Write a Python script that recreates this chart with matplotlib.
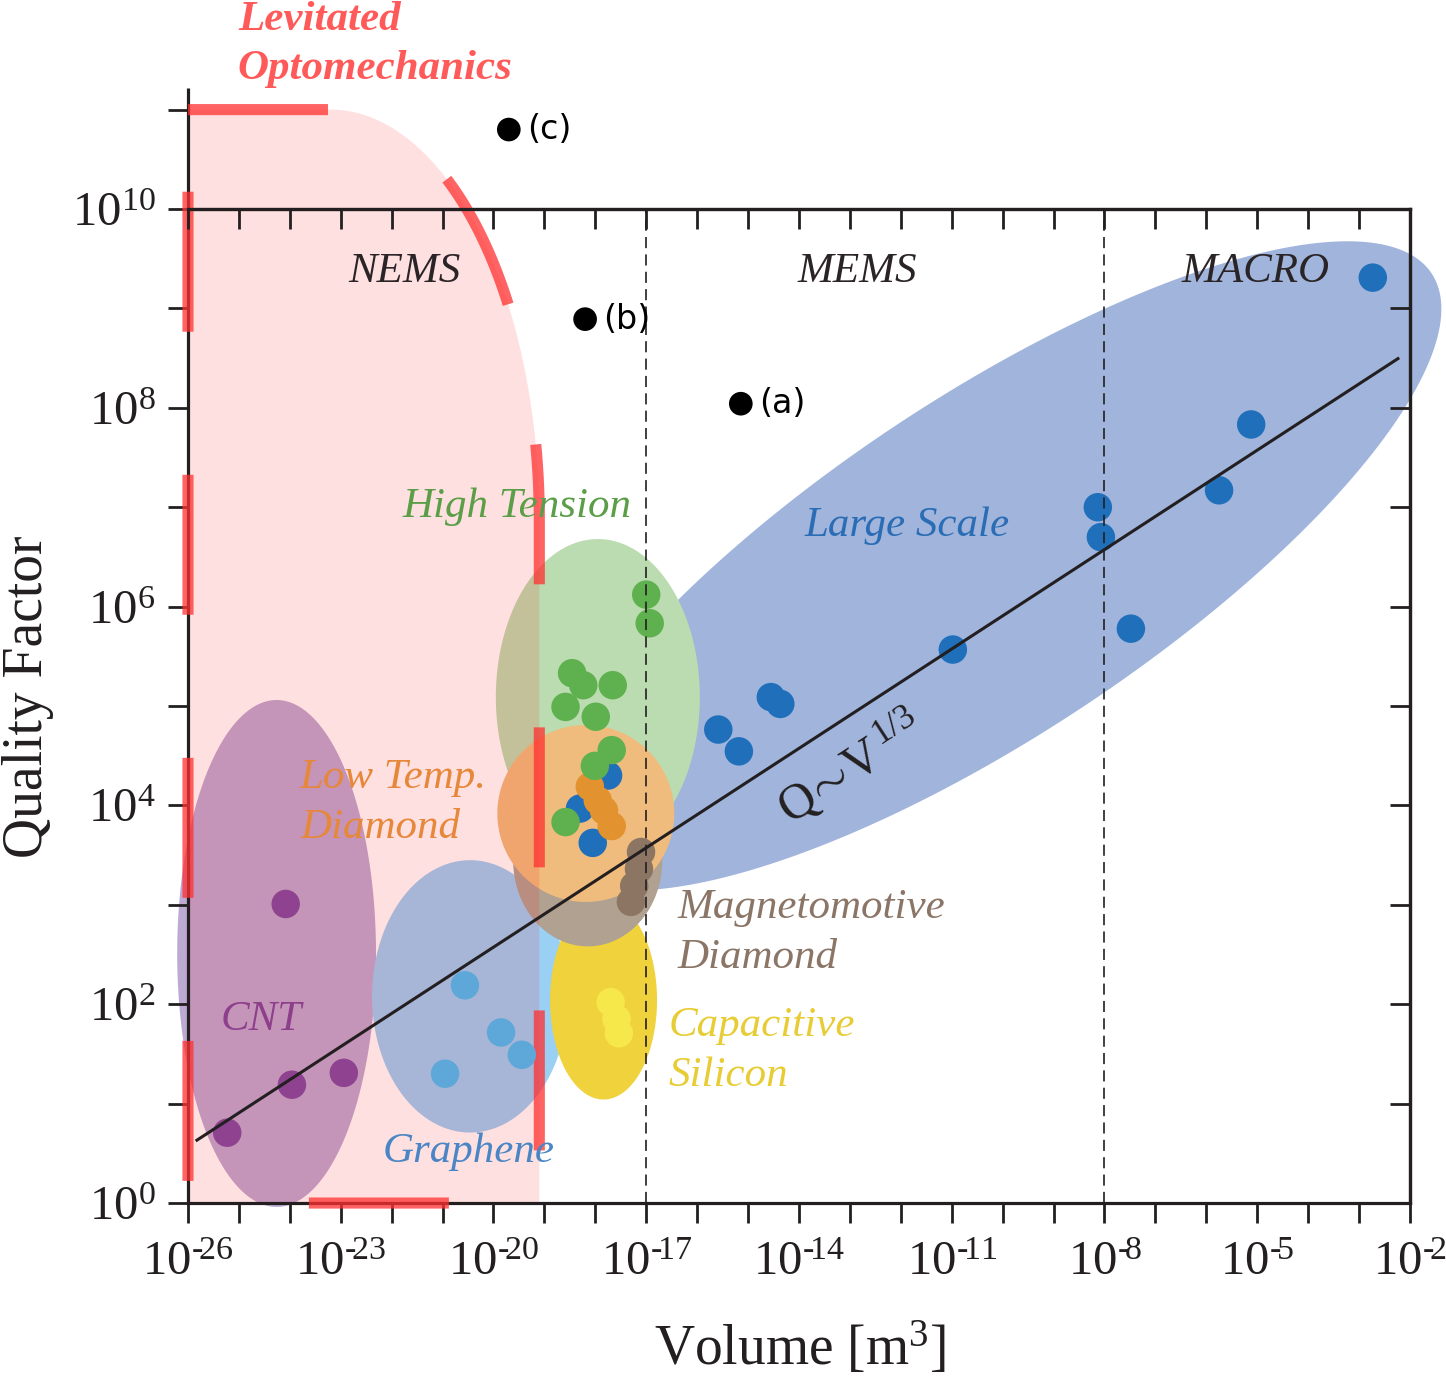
import numpy as np
import matplotlib
matplotlib.use("Agg")
import matplotlib.pyplot as plt
from matplotlib.patches import Polygon
from matplotlib.ticker import FixedLocator, FuncFormatter, NullLocator

plt.rcParams['font.family'] = ['Liberation Serif', 'DejaVu Serif']
plt.rcParams['mathtext.fontset'] = 'custom'
plt.rcParams['mathtext.rm'] = 'Liberation Serif'
plt.rcParams['mathtext.it'] = 'Liberation Serif:italic'
plt.rcParams['mathtext.bf'] = 'Liberation Serif:bold'
plt.rcParams['lines.scale_dashes'] = False

# ------------------------------------------------------------------ data
LARGE_V = [1.86e-3, 7.6e-6, 1.78e-6, 7.4e-9, 8.5e-9, 3.3e-8, 1.05e-11,
           2.8e-15, 4.3e-15, 2.6e-16, 6.6e-16, 1.78e-18, 5.0e-19, 8.9e-19]
LARGE_Q = [2.04e9, 6.8e7, 1.48e7, 1.0e7, 5.0e6, 6.0e5, 3.7e5,
           1.23e5, 1.05e5, 5.8e4, 3.5e4, 2.0e4, 9.3e3, 4.2e3]

TENSION_V = [1.0e-17, 1.17e-17, 3.5e-19, 5.8e-19, 2.2e-18, 2.6e-19, 1.02e-18,
             2.1e-18, 9.8e-19, 2.6e-19]
TENSION_Q = [1.32e6, 6.8e5, 2.14e5, 1.62e5, 1.62e5, 9.8e4, 7.8e4,
             3.6e4, 2.5e4, 6.8e3]

LOWT_V = [7.8e-19, 1.12e-18, 1.48e-18, 2.1e-18]
LOWT_Q = [1.55e4, 1.12e4, 8.9e3, 6.2e3]

MAGNETO_V = [7.9e-18, 7.2e-18, 5.8e-18, 5.0e-18]
MAGNETO_Q = [3.4e3, 2.3e3, 1.55e3, 1.07e3]

CAPSI_V = [2.0e-18, 2.6e-18, 2.9e-18]
CAPSI_Q = [105, 71, 51]

GRAPHENE_V = [2.75e-21, 1.41e-20, 3.6e-20, 1.12e-21]
GRAPHENE_Q = [155, 52, 31, 20]

CNT_V = [8.3e-25, 1.1e-24, 1.15e-23, 5.9e-26]
CNT_Q = [1.02e3, 15.5, 20.4, 5.1]

REF_LABELS = ['(a)', '(b)', '(c)']
REF_V = [7.2e-16, 6.3e-19, 2.0e-20]
REF_Q = [1.1e8, 7.8e8, 6.3e10]

# scaling law Q ~ V^(1/3)
LINE_V = [1.5e-26, 5.8e-3]
LINE_PREFACTOR = 1.74e9
LINE_EXPONENT = 1.0 / 3.0

# regime boundaries
BOUNDARY_V = [1e-17, 1e-8]

# levitated optomechanics region
LEV_V = [1e-26, 10**-19.1]
LEV_Q = [1e0, 1e11]

# axes ticks
X_TICK_EXP = list(range(-26, -1))
X_LABEL_EXP = [-26, -23, -20, -17, -14, -11, -8, -5, -2]
Y_TICK_EXP = list(range(0, 11))
Y_LABEL_EXP = [0, 2, 4, 6, 8, 10]

# group ellipses: centre (V, Q), semi-axes in display units of one y-decade, angle
ELL_CENTER = {
    'large':   (5.6e-11, 2.57e6),
    'cnt':     (5.5e-25, 324),
    'graph':   (3.47e-21, 120),
    'capsi':   (1.45e-18, 110),
    'magneto': (7.1e-19, 2.8e3),
    'tension': (1.12e-18, 1.23e5),
    'lowt':    (6.5e-19, 8.3e3),
}
ELL_AXES = {
    'large':   (5.33, 1.70, 33.5),
    'cnt':     (1.00, 2.55, 0.0),
    'graph':   (0.986, 1.37, 0.0),
    'capsi':   (0.538, 1.00, 0.0),
    'magneto': (0.75, 0.865, 0.0),
    'tension': (1.026, 1.59, 0.0),
    'lowt':    (0.89, 0.89, 0.0),
}
ELL_COLOR = {
    'large': '#a0b4dc', 'cnt': '#bcaad3', 'graph': '#9bd0f5',
    'capsi': '#efd23c', 'magneto': '#b0a191', 'tension': '#bbdcb0',
    'lowt': '#f0bc7e',
}
ELL_ORDER = ['large', 'cnt', 'graph', 'capsi', 'magneto', 'tension', 'lowt']

INK = '#231f20'

# ------------------------------------------------------------------ figure
fig = plt.figure(figsize=(14.46, 13.76), dpi=100)
ax = fig.add_axes([0.1300, 0.1257, 0.8451, 0.7224])
ax.set_xscale('log')
ax.set_yscale('log')
ax.set_xlim(1e-26, 1e-2)
ax.set_ylim(1e0, 1e10)
ax.set_axisbelow(False)

# ratio of display size of an x-decade to a y-decade
p0 = ax.transData.transform((1e-26, 1e0))
p1 = ax.transData.transform((1e-25, 1e1))
ratio = (p1[0] - p0[0]) / (p1[1] - p0[1])


def ellipse_points(center, axes, n=300):
    cx, cy = np.log10(center[0]), np.log10(center[1])
    a, b, th = axes
    th = np.deg2rad(th)
    t = np.linspace(0, 2 * np.pi, n)
    dx = a * np.cos(t) * np.cos(th) - b * np.sin(t) * np.sin(th)
    dy = a * np.cos(t) * np.sin(th) + b * np.sin(t) * np.cos(th)
    return np.column_stack([10 ** (cx + dx / ratio), 10 ** (cy + dy)])


for i, key in enumerate(ELL_ORDER):
    poly = Polygon(ellipse_points(ELL_CENTER[key], ELL_AXES[key]), closed=True,
                   facecolor=ELL_COLOR[key], edgecolor='none',
                   zorder=1.0 + 0.05 * i, clip_on=False)
    ax.add_patch(poly)

# levitated optomechanics region (rectangle with rounded upper-right corner)
lx0, lx1 = np.log10(LEV_V[0]), np.log10(LEV_V[1])
ly0, ly1 = np.log10(LEV_Q[0]), np.log10(LEV_Q[1])
rcx, rcy = 4.1, 4.13
phi = np.linspace(np.pi / 2, 0, 120)
arc_x = (lx1 - rcx) + rcx * np.cos(phi)
arc_y = (ly1 - rcy) + rcy * np.sin(phi)
px = np.concatenate([[lx0], arc_x, [lx1, lx0, lx0]])
py = np.concatenate([[ly1], arc_y, [ly0, ly0, ly1]])
lev_xy = np.column_stack([10 ** px, 10 ** py])
ax.add_patch(Polygon(lev_xy, closed=True, facecolor='red', alpha=0.12,
                     edgecolor='none', zorder=1.9, clip_on=False))
ax.plot(10 ** px, 10 ** py, color='#ff3030', alpha=0.75, lw=8,
        ls=(0, (100.8, 103.0)), dash_capstyle='butt', solid_capstyle='butt',
        zorder=2.8, clip_on=False)

# extended left spine and the 10^11 tick
ax.plot([1e-26, 1e-26], [1e10, 10 ** 11.22], color=INK, lw=2.3,
        solid_capstyle='butt', zorder=2.6, clip_on=False)
ax.plot([1e-26], [1e11], marker=0, ms=14.4, mew=2.0, color=INK,
        zorder=2.6, clip_on=False)

# points
DOT = 420
ax.scatter(LARGE_V, LARGE_Q, s=DOT, color='#1f6fba', edgecolors='none', zorder=3.0)
ax.scatter(LOWT_V, LOWT_Q, s=DOT, color='#e2922f', edgecolors='none', zorder=3.1)
ax.scatter(TENSION_V, TENSION_Q, s=DOT, color='#5fb14f', edgecolors='none', zorder=3.2)
ax.scatter(MAGNETO_V, MAGNETO_Q, s=DOT, color='#8c7562', edgecolors='none', zorder=3.3)
ax.scatter(CAPSI_V, CAPSI_Q, s=DOT, color='#f6e84a', edgecolors='none', zorder=3.3)
ax.scatter(GRAPHENE_V, GRAPHENE_Q, s=DOT, color='#5ea8d9', edgecolors='none', zorder=3.3)
ax.scatter(CNT_V, CNT_Q, s=DOT, color='#8e4290', edgecolors='none', zorder=3.3)
ax.scatter(REF_V, REF_Q, s=290, color='black', edgecolors='none', zorder=3.3,
           clip_on=False)
for lab, v, q in zip(REF_LABELS, REF_V, REF_Q):
    ax.annotate(lab, (v, q), xytext=(13, 0), textcoords='offset points',
                ha='left', va='center', fontsize=24, family='DejaVu Sans',
                color='black', annotation_clip=False, zorder=4)

# regime boundaries
for v in BOUNDARY_V:
    ax.axvline(v, color=INK, lw=1.2, ls=(0, (8, 4.5)), zorder=3.4)

# scaling line
lv = np.logspace(np.log10(LINE_V[0]), np.log10(LINE_V[1]), 60)
lq = LINE_PREFACTOR * lv ** LINE_EXPONENT
ax.plot(lv, lq, color=INK, lw=2.2, zorder=3.5)
q1 = ax.transData.transform((lv[0], lq[0]))
q2 = ax.transData.transform((lv[-1], lq[-1]))
ang = np.degrees(np.arctan2(q2[1] - q1[1], q2[0] - q1[0]))
ax.text(10 ** -13.0, 10 ** 4.38, r'$\mathrm{Q}\!\sim\!\mathrm{V}^{\,1/3}$', rotation=ang,
        rotation_mode='anchor', ha='center', va='center', fontsize=36,
        color=INK, zorder=4)

# region texts
IT = dict(style='italic', fontsize=31, zorder=4)
LS = 1.38
ax.text(10 ** -21.74, 10 ** 9.37, 'NEMS', ha='center', va='center', color='#2b2426', **IT)
ax.text(10 ** -12.86, 10 ** 9.37, 'MEMS', ha='center', va='center', color='#2b2426', **IT)
ax.text(10 ** -5.03, 10 ** 9.37, 'MACRO', ha='center', va='center', color='#2b2426', **IT)
ax.text(10 ** -11.88, 10 ** 6.81, 'Large Scale', ha='center', va='center', color='#2a6db5', **IT)
ax.text(10 ** -19.54, 10 ** 7.00, 'High Tension', ha='center', va='center', color='#5a9e48', **IT)
ax.text(10 ** -23.80, 10 ** 4.03, 'Low Temp.\nDiamond', ha='left', va='center',
        color='#e6873a', linespacing=LS, **IT)
ax.text(10 ** -16.38, 10 ** 2.72, 'Magnetomotive\nDiamond', ha='left', va='center',
        color='#8a7566', linespacing=LS, **IT)
ax.text(10 ** -16.57, 10 ** 1.53, 'Capacitive\nSilicon', ha='left', va='center',
        color='#e8cc35', linespacing=LS, **IT)
ax.text(10 ** -24.57, 10 ** 1.84, 'CNT', ha='center', va='center', color='#8e3f8c', **IT)
ax.text(10 ** -20.48, 10 ** 0.513, 'Graphene', ha='center', va='center', color='#4a86c5', **IT)
ax.text(10 ** -25.02, 10 ** 11.655, 'Levitated\nOptomechanics', ha='left', va='center',
        color='#ff5a5a', fontweight='bold', linespacing=LS, clip_on=False, **IT)

# ------------------------------------------------------------------ axes styling
for s in ax.spines.values():
    s.set_linewidth(2.3)
    s.set_color(INK)


def xfmt(v, pos):
    e = int(round(np.log10(v)))
    if e not in X_LABEL_EXP:
        return ''
    return '$10^{\\text{-}\\!%d}$' % abs(e)


def yfmt(v, pos):
    e = int(round(np.log10(v)))
    if e not in Y_LABEL_EXP:
        return ''
    return '$10^{%d}$' % e


ax.xaxis.set_major_locator(FixedLocator([10.0 ** e for e in X_TICK_EXP]))
ax.xaxis.set_minor_locator(NullLocator())
ax.xaxis.set_major_formatter(FuncFormatter(xfmt))
ax.yaxis.set_major_locator(FixedLocator([10.0 ** e for e in Y_TICK_EXP]))
ax.yaxis.set_minor_locator(NullLocator())
ax.yaxis.set_major_formatter(FuncFormatter(yfmt))
ax.tick_params(axis='both', which='major', direction='out', length=14.4,
               width=2.0, color=INK, labelsize=35, labelcolor=INK,
               top=False, right=False)
ax.tick_params(axis='x', pad=13)
ax.tick_params(axis='y', pad=9)

secx = ax.secondary_xaxis('top')
secx.xaxis.set_major_locator(FixedLocator([10.0 ** e for e in X_TICK_EXP]))
secx.xaxis.set_minor_locator(NullLocator())
secx.tick_params(direction='in', length=14.4, width=2.0, color=INK, labeltop=False)
secx.spines['top'].set_linewidth(2.3)
secx.spines['top'].set_color(INK)
secx.set_zorder(5)

secy = ax.secondary_yaxis('right')
secy.yaxis.set_major_locator(FixedLocator([10.0 ** e for e in Y_TICK_EXP]))
secy.yaxis.set_minor_locator(NullLocator())
secy.tick_params(direction='in', length=14.4, width=2.0, color=INK, labelright=False)
secy.spines['right'].set_linewidth(2.3)
secy.spines['right'].set_color(INK)
secy.set_zorder(5)

ax.set_xlabel('Volume [m$^{3}$]', fontsize=40, color=INK)
ax.xaxis.set_label_coords(0.5008, -0.1177)
ax.set_ylabel('Quality Factor', fontsize=40, color=INK)
ax.yaxis.set_label_coords(-0.1100, 0.509)

fig.savefig('out.png', dpi=100)
